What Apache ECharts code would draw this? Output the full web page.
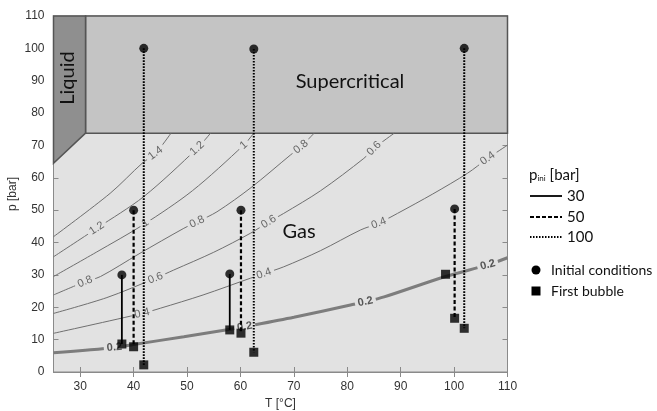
<!DOCTYPE html>
<html>
<head>
<meta charset="utf-8">
<script src="https://cdn.jsdelivr.net/npm/echarts@6/dist/echarts.min.js"></script>
<style>
html,body{margin:0;padding:0;background:#fff;}
#chart{width:657px;height:411px;}
</style>
</head>
<body>
<div id="chart"></div>
<script>
// ---- data ----
const xTicks = [30, 40, 50, 60, 70, 80, 90, 100, 110];
const yTicks = [0, 10, 20, 30, 40, 50, 60, 70, 80, 90, 100, 110];

// phase regions (T [°C], p [bar])
const liquidRegion = [[25, 110], [31, 110], [31, 73.8], [25, 64.5]];
const superRegion = [[31, 110], [110, 110], [110, 73.8], [31, 73.8]];

// contour lines
const c14 = [[25, 41.8], [35.6, 55.2], [41.6, 64.5], [44.1, 67.6], [47, 73.8]];
const c12 = [[25, 35.6], [33.1, 44.4], [41.9, 54.2], [51.9, 69.1], [54.4, 73.8]];
const c10 = [[25, 29.5], [33, 37], [41.9, 45.6], [51, 56], [60.6, 70.1], [62.5, 73.8]];
const c08 = [[25, 23.8], [30.9, 27.9], [33.8, 29.5], [41, 36.5], [49.4, 44.4], [51.9, 46.4], [55.6, 49.5], [62, 57], [69.4, 67.1], [71.3, 69.6], [73.8, 73.8]];
const c06 = [[25, 18.1], [35, 23], [44.1, 29], [47.5, 31.5], [55, 37], [61.9, 42.9], [65.3, 46.4], [68.1, 49], [75, 56], [83.1, 66], [85, 69.1], [88.8, 73.8]];
const c04 = [[25, 11.95], [41.6, 18.1], [45, 19.7], [53, 23.8], [61.9, 29], [64.4, 30.4], [68.1, 32.5], [75, 37.5], [82.5, 43.9], [85.9, 46], [89.4, 49], [96, 55], [102.5, 61.4], [106.3, 66], [110, 70.1]];
const c02 = [[25, 5.96], [36.6, 7.6], [40, 8.5], [49.4, 10.9], [58.1, 13.2], [62.5, 14.5], [70, 16.9], [80.6, 20.7], [83.4, 21.7], [86.9, 23.2], [98.4, 29.5], [106.3, 33.1], [110, 35.3]];

// contour labels: [T, p, text, contour index]
const contourLabels = [
  [44.1, 67.6, '1.4', 0],
  [33.1, 44.4, '1.2', 1], [51.9, 69.1, '1.2', 1],
  [42.2, 46.0, '1', 2], [60.6, 70.1, '1', 2],
  [30.9, 27.9, '0.8', 3], [51.9, 46.4, '0.8', 3], [71.3, 69.6, '0.8', 3],
  [44.1, 29.0, '0.6', 4], [65.3, 46.4, '0.6', 4], [85.0, 69.1, '0.6', 4],
  [41.6, 18.1, '0.4', 5], [64.4, 30.4, '0.4', 5], [85.9, 46.0, '0.4', 5], [106.3, 66.0, '0.4', 5],
  [36.4, 7.6, '0.2', 6], [60.8, 14.0, '0.2', 6], [83.4, 21.7, '0.2', 6], [106.3, 33.1, '0.2', 6]
];

// experiments: initial conditions and first bubble
const init30 = [[37.8, 30.0], [58.0, 30.3]];
const bub30 = [[37.8, 8.65], [58.0, 13.0]];
const init50 = [[40.0, 50.0], [60.1, 50.0], [100.1, 50.4]];
const bub50 = [[40.0, 7.8], [60.1, 12.0], [100.1, 16.6]];
const init100 = [[41.9, 100], [62.5, 99.8], [101.9, 100]];
const bub100 = [[41.9, 2.2], [62.5, 6.1], [101.9, 13.5]];
const bubExtra = [[98.4, 30.2]];

// ---- chart ----
const chart = echarts.init(document.getElementById('chart'), null, {renderer: 'canvas'});
const contours = [c14, c12, c10, c08, c06, c04, c02];
const GAS = '#e2e2e2';

function polySeries(pts, color, z) {
  return {
    type: 'custom', z: z, silent: true, data: [0],
    renderItem: function (params, api) {
      const p = pts.map(d => api.coord(d));
      return {type: 'polygon', shape: {points: p},
        style: {fill: color, stroke: '#555', lineWidth: 1.5}};
    }
  };
}

const series = [];
series.push(polySeries(superRegion, '#c4c4c4', 1));
series.push(polySeries(liquidRegion, '#8f8f8f', 1));

contours.forEach(function (c, i) {
  series.push({
    type: 'line', data: c, smooth: 0.3, symbol: 'none', silent: true, z: 2,
    lineStyle: {color: i === 6 ? '#7d7d7d' : '#6f6f6f', width: i === 6 ? 3 : 1}
  });
});

series.push({
  type: 'custom', z: 3, silent: true,
  data: contourLabels.map(d => [d[0], d[1]]),
  renderItem: function (params, api) {
    const d = contourLabels[params.dataIndex];
    const c = contours[d[3]];
    let k = 0;
    while (k < c.length - 2 && c[k + 1][0] < d[0]) k++;
    const a = api.coord(c[k]), b = api.coord(c[k + 1]);
    const ang = Math.atan2(-(b[1] - a[1]), b[0] - a[0]);
    const pos = api.coord([d[0], d[1]]);
    const thick = d[3] === 6;
    return {
      type: 'text', x: pos[0], y: pos[1], rotation: ang,
      style: {
        text: d[2], x: 0, y: 0, align: 'center', verticalAlign: 'middle',
        fill: thick ? '#555' : '#666',
        font: (thick ? 'bold ' : '') + '11px "Liberation Sans", Arial, sans-serif',
        backgroundColor: GAS, padding: [0, 3]
      }
    };
  }
});

function vline(a, b, type, width) {
  return {
    type: 'line', data: [a, b], symbol: 'none', silent: true, z: 4,
    lineStyle: {color: '#000', width: width, type: type}
  };
}
init30.forEach((p, i) => series.push(vline(p, bub30[i], 'solid', 1.8)));
init50.forEach((p, i) => series.push(vline(p, bub50[i], [4, 2.5], 2.2)));
init100.forEach((p, i) => series.push(vline(p, bub100[i], [1.6, 1.4], 2)));

series.push({
  type: 'scatter', silent: true, z: 5, symbol: 'circle', symbolSize: 9,
  itemStyle: {color: '#000'}, data: init30.concat(init50, init100)
});
series.push({
  type: 'scatter', silent: true, z: 5, symbol: 'rect', symbolSize: 9,
  itemStyle: {color: '#000'}, data: bub30.concat(bub50, bub100, bubExtra)
});

const axisCol = '#8a8a8a';
const labelFont = {color: '#333', fontSize: 12, fontFamily: '"Liberation Sans", Arial, sans-serif'};
const txtFont = 'Lato, "Open Sans", sans-serif';

const option = {
  animation: false,
  grid: {left: 53.5, top: 16, width: 454, height: 356, show: true,
    outerBoundsMode: 'none', containLabel: false,
    backgroundColor: GAS, borderColor: axisCol, borderWidth: 1},
  xAxis: [{
    type: 'value', min: 25, max: 110, position: 'bottom',
    axisLine: {show: true, lineStyle: {color: axisCol}},
    axisTick: {show: true, inside: true, length: 5, customValues: xTicks, lineStyle: {color: axisCol}},
    axisLabel: Object.assign({customValues: xTicks, margin: 9}, labelFont),
    splitLine: {show: false},
    name: 'T [°C]', nameLocation: 'middle', nameGap: 24,
    nameTextStyle: labelFont
  }, {
    type: 'value', min: 25, max: 110, position: 'top',
    axisLine: {show: true, lineStyle: {color: axisCol}},
    axisTick: {show: true, inside: true, length: 5, customValues: xTicks, lineStyle: {color: axisCol}},
    axisLabel: {show: false}, splitLine: {show: false}
  }],
  yAxis: [{
    type: 'value', min: 0, max: 110, interval: 10, position: 'left',
    axisLine: {show: true, lineStyle: {color: axisCol}},
    axisTick: {show: true, inside: true, length: 5, customValues: yTicks, lineStyle: {color: axisCol}},
    axisLabel: Object.assign({margin: 9}, labelFont),
    splitLine: {show: false}
  }, {
    type: 'value', min: 0, max: 110, interval: 10, position: 'right',
    axisLine: {show: true, lineStyle: {color: axisCol}},
    axisTick: {show: true, inside: true, length: 5, lineStyle: {color: axisCol}},
    axisLabel: {show: false}, splitLine: {show: false}
  }],
  series: series,
  graphic: [
    {type: 'text', x: 13, y: 194, rotation: Math.PI / 2, z: 10,
      style: {text: 'p [bar]', align: 'center', verticalAlign: 'middle', fill: '#333',
        font: '12px "Liberation Sans", Arial, sans-serif'}},
    {type: 'text', x: 68, y: 78, rotation: Math.PI / 2, z: 10,
      style: {text: 'Liquid', align: 'center', verticalAlign: 'middle', fill: '#111',
        font: '20px ' + txtFont}},
    {type: 'text', x: 350, y: 82, z: 10,
      style: {text: 'Supercritical', align: 'center', verticalAlign: 'middle', fill: '#111',
        font: '20px ' + txtFont}},
    {type: 'text', x: 299, y: 232, z: 10,
      style: {text: 'Gas', align: 'center', verticalAlign: 'middle', fill: '#111',
        font: '20px ' + txtFont}},
    // legend
    {type: 'text', x: 529, y: 175, z: 10,
      style: {text: '{p|p}{s|ini} [bar]', verticalAlign: 'middle',
        rich: {p: {fontSize: 15, fontFamily: 'Lato', fill: '#111'},
               s: {fontSize: 8, fontFamily: 'Lato', fill: '#111', verticalAlign: 'bottom', padding: [4, 0, 0, 0]}},
        font: '15px Lato', fill: '#111'}},
    {type: 'line', z: 10, shape: {x1: 530, y1: 196, x2: 562, y2: 196}, style: {stroke: '#000', lineWidth: 1.8}},
    {type: 'line', z: 10, shape: {x1: 530, y1: 217, x2: 562, y2: 217}, style: {stroke: '#000', lineWidth: 2, lineDash: [4, 2]}},
    {type: 'line', z: 10, shape: {x1: 530, y1: 237, x2: 562, y2: 237}, style: {stroke: '#000', lineWidth: 1.8, lineDash: [1.5, 1.5]}},
    {type: 'text', x: 567, y: 196, z: 10, style: {text: '30', verticalAlign: 'middle', font: '15px Lato', fill: '#111'}},
    {type: 'text', x: 567, y: 217, z: 10, style: {text: '50', verticalAlign: 'middle', font: '15px Lato', fill: '#111'}},
    {type: 'text', x: 567, y: 237, z: 10, style: {text: '100', verticalAlign: 'middle', font: '15px Lato', fill: '#111'}},
    {type: 'circle', z: 10, shape: {cx: 536, cy: 270, r: 4.5}, style: {fill: '#000'}},
    {type: 'rect', z: 10, shape: {x: 531.5, y: 286.5, width: 9, height: 9}, style: {fill: '#000'}},
    {type: 'text', x: 551, y: 270, z: 10, style: {text: 'Initial conditions', verticalAlign: 'middle', font: '14px Lato', fill: '#111'}},
    {type: 'text', x: 551, y: 291, z: 10, style: {text: 'First bubble', verticalAlign: 'middle', font: '14px Lato', fill: '#111'}}
  ]
};
chart.setOption(option);
</script>
</body>
</html>
